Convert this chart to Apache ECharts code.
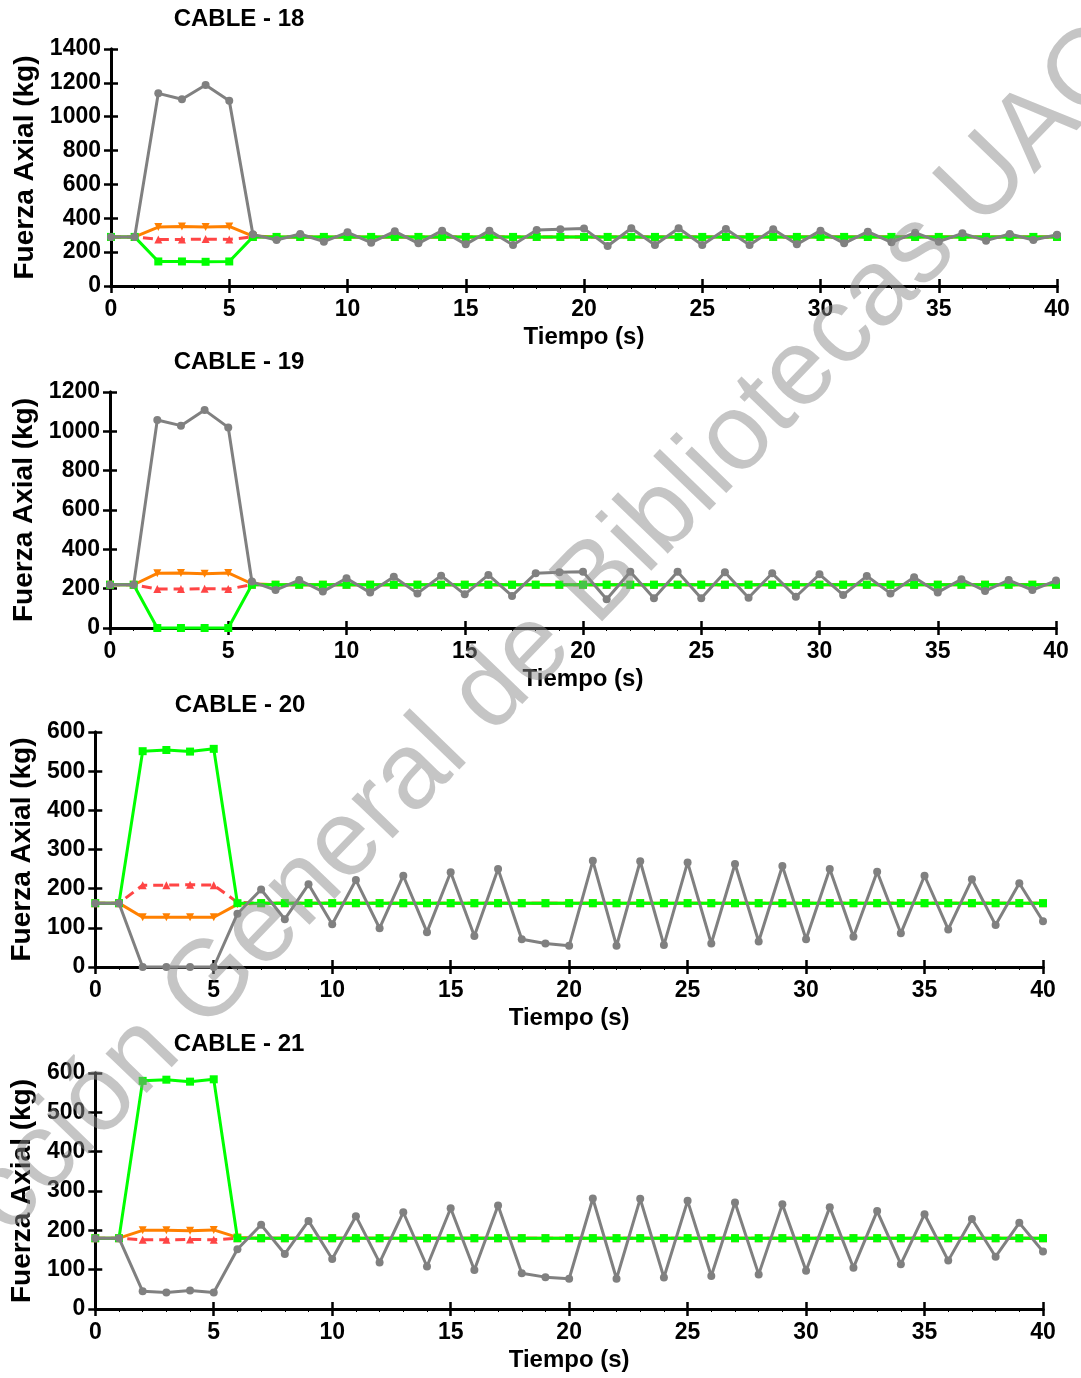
<!DOCTYPE html>
<html>
<head>
<meta charset="utf-8">
<script src="https://cdn.jsdelivr.net/npm/echarts@6/dist/echarts.min.js"></script>
<style>
html,body{margin:0;padding:0;background:#fff;}
#chart{width:1081px;height:1378px;}
</style>
</head>
<body>
<div id="chart"></div>
<script>
// ---------- DATA ----------
const tiempo = [0,1,2,3,4,5,6,7,8,9,10,11,12,13,14,15,16,17,18,19,20,21,22,23,24,25,26,27,28,29,30,31,32,33,34,35,36,37,38,39,40];
const titles = ["CABLE - 18","CABLE - 19","CABLE - 20","CABLE - 21"];

// CABLE - 18
const grey18   = [290,290,1138,1103,1187,1095,305,272,307,262,317,256,323,252,327,246,327,242,331,335,339,236,341,242,341,242,337,242,335,246,327,252,321,258,315,262,311,268,307,272,303];
const orange18 = [290,290,348,352,348,352,295,290,290,290,290,290,290,290,290,290,290,290,290,290,290,290,290,290,290,290,290,290,290,290,290,290,290,290,290,290,290,290,290,290,290];
const red18    = [290,290,275,275,277,275,290,290,290,290,290,290,290,290,290,290,290,290,290,290,290,290,290,290,290,290,290,290,290,290,290,290,290,290,290,290,290,290,290,290,290];
const green18  = [290,290,145,145,143,145,290,290,290,290,290,290,290,290,290,290,290,290,290,290,290,290,290,290,290,290,290,290,290,290,290,290,290,290,290,290,290,290,290,290,290];

// CABLE - 19
const grey19   = [220,220,1058,1029,1108,1020,236,193,244,185,253,180,261,176,266,171,270,163,278,283,286,146,286,151,286,151,283,154,278,159,273,168,264,176,258,181,248,188,244,193,241];
const orange19 = [220,220,278,280,276,280,225,220,220,220,220,220,220,220,220,220,220,220,220,220,220,220,220,220,220,220,220,220,220,220,220,220,220,220,220,220,220,220,220,220,220];
const red19    = [220,220,198,198,200,198,220,220,220,220,220,220,220,220,220,220,220,220,220,220,220,220,220,220,220,220,220,220,220,220,220,220,220,220,220,220,220,220,220,220,220];
const green19  = [220,220,0,0,0,0,220,220,220,220,220,220,220,220,220,220,220,220,220,220,220,220,220,220,220,220,220,220,220,220,220,220,220,220,220,220,220,220,220,220,220];

// CABLE - 20
const grey20   = [163,163,0,0,0,0,136,198,122,211,109,222,99,233,89,242,79,250,71,60,54,271,54,270,56,267,60,263,65,258,71,250,77,243,86,233,96,224,107,214,117];
const orange20 = [163,163,127,127,127,127,160,163,163,163,163,163,163,163,163,163,163,163,163,163,163,163,163,163,163,163,163,163,163,163,163,163,163,163,163,163,163,163,163,163,163];
const red20    = [163,163,209,209,210,209,165,163,163,163,163,163,163,163,163,163,163,163,163,163,163,163,163,163,163,163,163,163,163,163,163,163,163,163,163,163,163,163,163,163,163];
const green20  = [163,163,551,554,550,557,163,163,163,163,163,163,163,163,163,163,163,163,163,163,163,163,163,163,163,163,163,163,163,163,163,163,163,163,163,163,163,163,163,163,163];

// CABLE - 21
const grey21   = [180,180,45,42,47,42,152,214,140,224,127,236,118,246,108,256,99,263,91,81,77,281,77,280,80,275,84,271,88,266,97,259,105,249,114,241,123,229,133,219,146];
const orange21 = [180,180,200,200,199,201,182,180,180,180,180,180,180,180,180,180,180,180,180,180,180,180,180,180,180,180,180,180,180,180,180,180,180,180,180,180,180,180,180,180,180];
const red21    = [180,180,176,176,177,176,180,180,180,180,180,180,180,180,180,180,180,180,180,180,180,180,180,180,180,180,180,180,180,180,180,180,180,180,180,180,180,180,180,180,180];
const green21  = [180,180,580,583,578,584,180,180,180,180,180,180,180,180,180,180,180,180,180,180,180,180,180,180,180,180,180,180,180,180,180,180,180,180,180,180,180,180,180,180,180];

const yMaxes = [1400,1200,600,600];
const yIntervals = [200,200,100,100];
const panels = [
  [grey18, orange18, red18, green18],
  [grey19, orange19, red19, green19],
  [grey20, orange20, red20, green20],
  [grey21, orange21, red21, green21]
];

// ---------- LAYOUT / STYLE ----------
const FONT = '"Liberation Sans", Arial, sans-serif';
const grids = [
  {left:111, right:24, top:49,   height:237},
  {left:110, right:25, top:392,  height:236},
  {left:95,  right:38, top:732,  height:235},
  {left:95,  right:38, top:1073, height:236}
];
const yNameGap = [65,65,50,50];
const titlePos = [[239,19],[239,362],[240,705],[239,1044]];

const axisLineStyle = {color:'#000', width:3};
const tickStyle = {color:'#000', width:2.5};
const labelStyle = {color:'#000', fontSize:23, fontWeight:'bold', fontFamily:FONT};

const xAxes = [], yAxes = [], series = [], graphics = [];

panels.forEach((p, i) => {
  xAxes.push({
    gridIndex:i, type:'value', min:0, max:40, interval:5, position:'bottom',
    axisLine:{show:true, lineStyle:axisLineStyle},
    axisTick:{show:true, inside:false, length:7, lineStyle:tickStyle},
    minorTick:{show:true, splitNumber:5, length:3, lineStyle:{color:'#000', width:1}},
    splitLine:{show:false},
    axisLabel:Object.assign({margin:12, formatter:v => String(v)}, labelStyle),
    name:'Tiempo (s)', nameLocation:'middle', nameGap:39,
    nameTextStyle:{color:'#000', fontSize:24, fontWeight:'bold', fontFamily:FONT}
  });
  xAxes.push({
    gridIndex:i, type:'value', min:0, max:40, interval:5, position:'top',
    axisLine:{show:true, lineStyle:axisLineStyle},
    axisTick:{show:true, inside:false, length:7, lineStyle:tickStyle},
    splitLine:{show:false}, axisLabel:{show:false}
  });
  yAxes.push({
    gridIndex:i, type:'value', min:0, max:yMaxes[i], interval:yIntervals[i], position:'left',
    axisLine:{show:true, lineStyle:axisLineStyle},
    axisTick:{show:true, inside:false, length:7, lineStyle:tickStyle},
    splitLine:{show:false},
    axisLabel:Object.assign({margin:10, formatter:v => String(v)}, labelStyle),
    name:'Fuerza Axial (kg)', nameLocation:'middle', nameGap:yNameGap[i],
    nameTextStyle:{color:'#000', fontSize:28, fontWeight:'bold', fontFamily:FONT}
  });
  yAxes.push({
    gridIndex:i, type:'value', min:0, max:yMaxes[i], interval:yIntervals[i], position:'right',
    axisLine:{show:true, lineStyle:axisLineStyle},
    axisTick:{show:true, inside:false, length:7, lineStyle:tickStyle},
    splitLine:{show:false}, axisLabel:{show:false}
  });

  const pair = arr => tiempo.map((t, k) => [t, arr[k]]);
  const common = {type:'line', xAxisIndex:2*i, yAxisIndex:2*i, clip:false, animation:false, showAllSymbol:true};
  series.push(Object.assign({}, common, {
    name:'orange'+i, data:pair(p[1]), symbol:'triangle', symbolRotate:180, symbolSize:8,
    itemStyle:{color:'#FF8000'}, lineStyle:{color:'#FF8000', width:3}, z:2
  }));
  series.push(Object.assign({}, common, {
    name:'red'+i, data:pair(p[2]), symbol:'triangle', symbolSize:8,
    itemStyle:{color:'#FF4545'}, lineStyle:{color:'#FF4545', width:3, type:[10,6]}, z:3
  }));
  series.push(Object.assign({}, common, {
    name:'green'+i, data:pair(p[3]), symbol:'rect', symbolSize:8,
    itemStyle:{color:'#00FF00'}, lineStyle:{color:'#00FF00', width:3}, z:4
  }));
  series.push(Object.assign({}, common, {
    name:'grey'+i, data:pair(p[0]), symbol:'circle', symbolSize:8,
    itemStyle:{color:'#808080'}, lineStyle:{color:'#808080', width:3}, z:5
  }));

  graphics.push({
    type:'text', x:titlePos[i][0], y:titlePos[i][1], z:50,
    style:{text:titles[i], fill:'#000', font:'bold 24px ' + FONT, textAlign:'center', textVerticalAlign:'middle'}
  });
});

// watermark
graphics.push({
  type:'text', x:485, y:700, rotation:46*Math.PI/180, z:100,
  style:{text:'Dirección General de Bibliotecas UAQ', fill:'rgba(140,140,140,0.5)',
         font:'108px ' + FONT, textAlign:'center', textVerticalAlign:'middle'}
});

const chart = echarts.init(document.getElementById('chart'), null, {renderer:'canvas'});
chart.setOption({
  animation:false,
  backgroundColor:'#fff',
  grid:grids,
  xAxis:xAxes,
  yAxis:yAxes,
  series:series,
  graphic:graphics
});
</script>
</body>
</html>
